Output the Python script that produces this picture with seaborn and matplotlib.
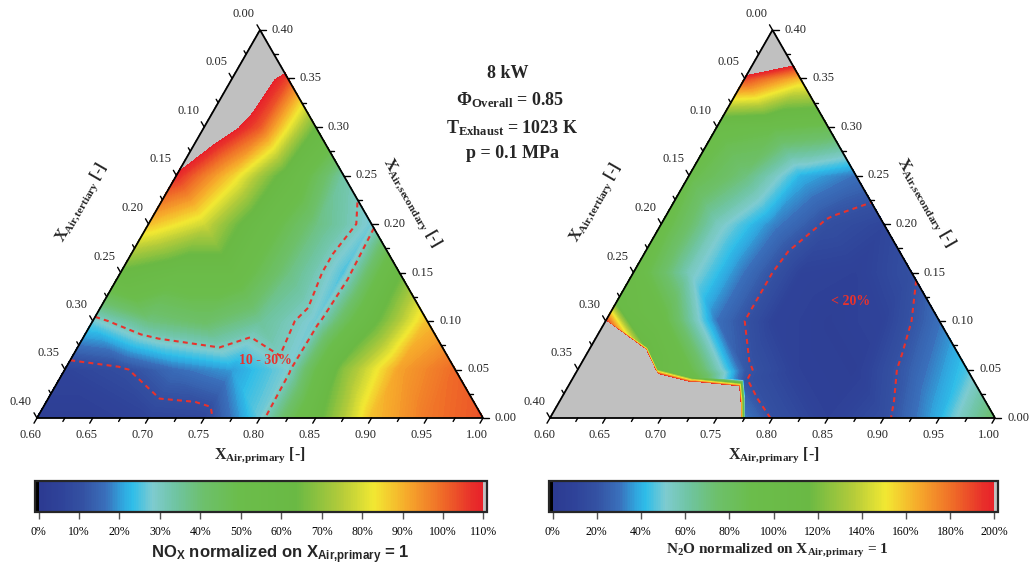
import numpy as np
import matplotlib
matplotlib.use("Agg")
import matplotlib.pyplot as plt
import matplotlib.tri as mtri
from matplotlib.colors import LinearSegmentedColormap, Normalize
from matplotlib.cm import ScalarMappable
import seaborn as sns

# ---- values -----------------------------------------------------------------
# sample compositions: X_Air,primary and X_Air,secondary (tertiary = remainder)
primary_levels = [0.60, 0.65, 0.70, 0.75, 0.80, 0.85, 0.90, 0.95, 1.00]
secondary_levels = [0.00, 0.05, 0.10, 0.15, 0.20, 0.25, 0.30, 0.35, 0.40]

# NOx normalized on X_Air,primary = 1 [%]; one row per primary level,
# running over secondary = 0.00, 0.05, ...  (> 110 % is drawn grey)
nox_rows = [
    [3, 6, 27, 62, 88, 108, 122, 128, 150],
    [3, 9, 38, 55, 78, 86, 102, 104],
    [6, 16, 42, 55, 55, 58, 63],
    [7, 20, 35, 38, 38, 33],
    [27, 28, 27, 25, 27],
    [60, 68, 60, 62],
    [88, 92, 88],
    [98, 100],
    [103],
]

# N2O normalized on X_Air,primary = 1 [%]  (> 200 % is drawn grey)
n2o_rows = [
    [1000, 1000, 190, 100, 95, 90, 95, 190, 300],
    [1000, 1000, 95, 55, 55, 70, 90, 160],
    [1000, 90, 30, 30, 33, 40, 85],
    [1000, 22, 10, 10, 18, 30],
    [19, 8, 6, 8, 12],
    [8, 6, 10, 18],
    [17, 25, 30],
    [40, 45],
    [75],
]
# extra N2O readings right at the edge of the grey region
n2o_edge_primary = [0.600, 0.651, 0.671, 0.708, 0.754, 0.765, 0.775]
n2o_edge_secondary = [0.120, 0.072, 0.050, 0.041, 0.039, 0.020, 0.000]
n2o_edge_values = [105, 110, 105, 95, 21, 26, 32]

nox_max, n2o_max = 110, 200
nox_ticks = [0, 10, 20, 30, 40, 50, 60, 70, 80, 90, 100, 110]
n2o_ticks = [0, 20, 40, 60, 80, 100, 120, 140, 160, 180, 200]

# ---- style ------------------------------------------------------------------
sns.set_theme(style="white")
plt.rcParams["font.family"] = ["Liberation Serif", "DejaVu Serif"]
plt.rcParams["mathtext.fontset"] = "custom"
plt.rcParams["mathtext.rm"] = "Liberation Serif"
plt.rcParams["mathtext.it"] = "Liberation Serif:italic"
plt.rcParams["mathtext.bf"] = "Liberation Serif:bold"
plt.rcParams["mathtext.sf"] = "Liberation Sans:bold"

cmap_nodes = [0.0, 0.05, 0.10, 0.15, 0.19, 0.21, 0.255, 0.31, 0.37, 0.45,
              0.58, 0.68, 0.755, 0.83, 0.91, 0.975, 1.0]
cmap_colors = ["#2c3a91", "#2f4399", "#3452a3", "#3a70bb", "#30a9e0", "#2ebde9",
               "#7ecbd0", "#6fc4a0", "#6dc06c", "#6bbd4b", "#6ab944", "#b3cb3a",
               "#f2e832", "#f6a92b", "#ef6a28", "#e8302a", "#e8222a"]
cmap = LinearSegmentedColormap.from_list("origin", list(zip(cmap_nodes, cmap_colors)))
cmap = cmap.with_extremes(under="black", over="#c0c0c0")
dash_red = "#e8322c"

W, HPX = 1031, 565
H = np.sqrt(3) / 2


def px_box(x0, y0, x1, y1):
    return [x0 / W, 1 - y1 / HPX, (x1 - x0) / W, (y1 - y0) / HPX]


def tern_xy(p, s):
    a = (np.asarray(p, float) - 0.6) / 0.4
    b = np.asarray(s, float) / 0.4
    return a + b / 2, b * H


def flatten(rows):
    p, s, v = [], [], []
    for pl, row in zip(primary_levels, rows):
        for sl, val in zip(secondary_levels, row):
            p.append(pl)
            s.append(sl)
            v.append(val)
    return p, s, v


def draw_frame(ax, w_px, h_px):
    dx, dy = 1 / w_px, H / h_px
    ax.plot([0, 1, 0.5, 0], [0, 0, H, 0], color="black", lw=1.3,
            clip_on=False, zorder=6, solid_joinstyle="miter")
    kw = dict(color="black", lw=1.0, clip_on=False, zorder=6)
    tk = dict(fontsize=9, ha="center", va="center", clip_on=False)
    for i in range(17):
        v = i * 0.025
        major = i % 2 == 0
        L = 6 if major else 4
        b = v / 0.4
        # bottom axis: primary
        ax.plot([b, b - 0.5 * L * dx], [0, -0.866 * L * dy], **kw)
        # right axis: secondary
        xr, yr = 1 - b / 2, b * H
        ax.plot([xr, xr + L * dx], [yr, yr], **kw)
        # left axis: tertiary
        xl, yl = (1 - b) / 2, (1 - b) * H
        ax.plot([xl, xl - 0.5 * L * dx], [yl, yl + 0.866 * L * dy], **kw)
        if major:
            ax.text(b - 6 * dx, -17 * dy, f"{0.6 + v:.2f}", **tk)
            ax.text(xr + 23 * dx, yr, f"{v:.2f}", **tk)
            ax.text(xl - 16 * dx, yl + 16 * dy, f"{v:.2f}", **tk)


def draw_panel(box, p, s, v, vmax, levels, note, note_pt):
    ax = fig.add_axes(px_box(*box))
    x, y = tern_xy(p, s)
    tri = mtri.Triangulation(x, y)
    norm = Normalize(0, vmax)
    cs = ax.tricontourf(tri, v, levels=np.linspace(0, vmax, 221), cmap=cmap,
                        norm=norm, extend="both")
    cs.set_edgecolor("face")
    cs.set_linewidth(0.4)
    ax.tricontour(tri, v, levels=levels, colors=dash_red, linewidths=1.5,
                  linestyles=[(0, (2.4, 2.0))])
    nx, ny = tern_xy(*note_pt)
    ax.text(nx, ny, note, color=dash_red, fontsize=10, fontweight="bold",
            ha="center", va="center")
    ax.set_xlim(0, 1)
    ax.set_ylim(0, H)
    ax.set_aspect("auto")
    ax.axis("off")
    draw_frame(ax, box[2] - box[0], box[3] - box[1])
    return ax


def draw_colorbar(box, vmax, ticks):
    cax = fig.add_axes(px_box(*box))
    sm = ScalarMappable(norm=Normalize(0, vmax), cmap=cmap)
    cb = fig.colorbar(sm, cax=cax, orientation="horizontal", extend="both",
                      extendrect=True, extendfrac=0.008)
    cb.set_ticks(ticks)
    cb.ax.xaxis.set_major_formatter(lambda val, pos: f"{val:.0f}%")
    cb.outline.set_linewidth(1.6)
    cax.minorticks_off()
    cax.tick_params(axis="x", direction="out", length=5, width=1,
                    colors="#555555", labelcolor="black", labelsize=8.5, pad=5)
    return cb


fig = plt.figure(figsize=(W / 100, HPX / 100), dpi=100)

# left: NOx
p, s, v = flatten(nox_rows)
draw_panel((37, 30, 483, 418), p, s, v, nox_max, [10, 30], "10 - 30%", (0.775, 0.059))

# right: N2O
p, s, v = flatten(n2o_rows)
p += n2o_edge_primary
s += n2o_edge_secondary
v += n2o_edge_values
draw_panel((550, 30, 995, 418), p, s, v, n2o_max, [20], "< 20%", (0.81, 0.12))

draw_colorbar((35, 481, 487, 512), nox_max, nox_ticks)
draw_colorbar((549, 481, 998, 512), n2o_max, n2o_ticks)

# axis titles
lab = dict(fontsize=11.5, fontweight="bold", ha="center", va="center",
           rotation_mode="anchor")
for x0 in (0, 514):
    fig.text((260 + x0) / W, 1 - 455 / HPX, r"X$_{\mathbf{Air{,}primary}}$ [-]", **lab)
    fig.text((82 + x0) / W, 1 - 203 / HPX, r"X$_{\mathbf{Air{,}tertiary}}$ [-]",
             rotation=60, **lab)
    fig.text((412 + x0) / W, 1 - 203 / HPX, r"X$_{\mathbf{Air{,}secondary}}$ [-]",
             rotation=-60, **lab)

fig.text(280 / W, 1 - 555 / HPX,
         r"NO$_{\mathsf{X}}$ normalized on X$_{\mathsf{Air{,}primary}}$ = 1",
         family="Liberation Sans", fontsize=12, fontweight="bold",
         ha="center", va="center")
fig.text(777 / W, 1 - 551 / HPX,
         r"N$_{\mathbf{2}}$O normalized on X$_{\mathbf{Air{,}primary}}$ = 1",
         fontsize=11, fontweight="bold", ha="center", va="center")

# operating conditions
cond = dict(fontsize=13, fontweight="bold", ha="center", va="baseline")
fig.text(508 / W, 1 - 78 / HPX, "8 kW", **cond)
fig.text(510 / W, 1 - 105 / HPX, r"Φ$_{\mathbf{Overall}}$ = 0.85", **cond)
fig.text(512 / W, 1 - 133 / HPX, r"T$_{\mathbf{Exhaust}}$ = 1023 K", **cond)
fig.text(512 / W, 1 - 158 / HPX, "p = 0.1 MPa", **cond)

fig.savefig("out.png", dpi=100)
